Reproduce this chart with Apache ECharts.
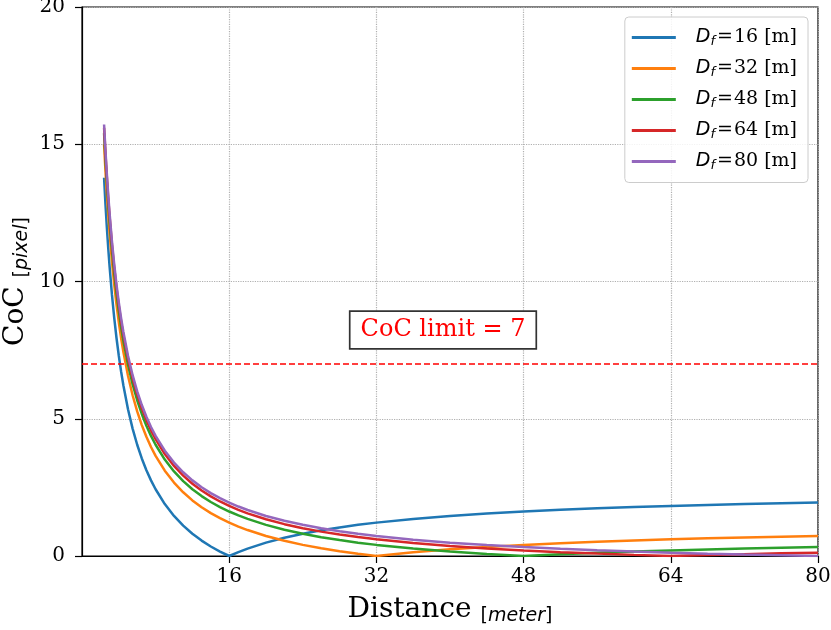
<!DOCTYPE html>
<html lang="en">
<head>
    <meta charset="UTF-8">
    <title>CoC vs Distance</title>
    <script src="https://cdn.jsdelivr.net/npm/echarts@6/dist/echarts.min.js"></script>
    <style>
        html, body {
            margin: 0;
            padding: 0;
            background: #fff;
        }

        #chart {
            width: 831px;
            height: 630px;
        }
    </style>
</head>
<body>
<div id="chart"></div>
<script type="text/javascript">
    // distance samples [m]
    var distance = [2.4, 2.55, 2.7, 2.85, 3, 3.25, 3.5, 3.75, 4, 4.25, 4.5, 5, 5.5, 6, 6.5, 7, 7.5, 8,
        9, 10, 11, 12, 13, 14, 15, 16, 17, 18, 20, 22, 24, 26, 28, 30,
        32, 36, 40, 44, 48, 52, 56, 60, 64, 68, 72, 76, 80];

    // CoC [pixel] per focus distance
    var coc16 = [13.78, 12.82, 11.98, 11.22, 10.54, 9.538, 8.683, 7.942, 7.294, 6.722, 6.213, 5.349, 4.641, 4.052, 3.553, 3.126, 2.755, 2.431,
        1.891, 1.459, 1.105, 0.810, 0.561, 0.347, 0.162, 0, 0.143, 0.270, 0.486, 0.663, 0.810, 0.935, 1.042, 1.135,
        1.216, 1.351, 1.459, 1.547, 1.621, 1.683, 1.737, 1.783, 1.823, 1.859, 1.891, 1.919, 1.945];
    var coc32 = [14.99, 14.04, 13.19, 12.43, 11.75, 10.75, 9.899, 9.158, 8.509, 7.937, 7.429, 6.564, 5.857, 5.268, 4.769, 4.342, 3.971, 3.647,
        3.107, 2.674, 2.321, 2.026, 1.777, 1.563, 1.378, 1.216, 1.073, 0.945, 0.729, 0.553, 0.405, 0.281, 0.174, 0.081,
        0, 0.135, 0.243, 0.332, 0.405, 0.468, 0.521, 0.567, 0.608, 0.644, 0.675, 0.704, 0.729];
    var coc48 = [15.40, 14.44, 13.60, 12.84, 12.16, 11.16, 10.30, 9.563, 8.915, 8.343, 7.834, 6.970, 6.262, 5.673, 5.174, 4.747, 4.376, 4.052,
        3.512, 3.080, 2.726, 2.431, 2.182, 1.968, 1.783, 1.621, 1.478, 1.351, 1.135, 0.958, 0.810, 0.686, 0.579, 0.486,
        0.405, 0.270, 0.162, 0.074, 0, 0.062, 0.116, 0.162, 0.203, 0.238, 0.270, 0.299, 0.324];
    var coc64 = [15.60, 14.65, 13.80, 13.04, 12.36, 11.36, 10.51, 9.766, 9.117, 8.545, 8.037, 7.172, 6.465, 5.876, 5.377, 4.949, 4.579, 4.255,
        3.714, 3.282, 2.929, 2.634, 2.385, 2.171, 1.986, 1.823, 1.680, 1.553, 1.337, 1.160, 1.013, 0.888, 0.781, 0.689,
        0.608, 0.473, 0.365, 0.276, 0.203, 0.140, 0.087, 0.041, 0, 0.036, 0.068, 0.096, 0.122];
    var coc80 = [15.72, 14.77, 13.92, 13.16, 12.48, 11.48, 10.63, 9.887, 9.239, 8.667, 8.158, 7.294, 6.587, 5.997, 5.498, 5.071, 4.700, 4.376,
        3.836, 3.404, 3.050, 2.755, 2.506, 2.292, 2.107, 1.945, 1.802, 1.675, 1.459, 1.282, 1.135, 1.010, 0.903, 0.810,
        0.729, 0.594, 0.486, 0.398, 0.324, 0.262, 0.208, 0.162, 0.122, 0.086, 0.054, 0.026, 0];

    var focusNames = ['16', '32', '48', '64', '80'];
    var xTicks = [16, 32, 48, 64, 80];
    var cocLimit = 7;

    var colors = ['#1f77b4', '#ff7f0e', '#2ca02c', '#d62728', '#9467bd'];
    var serif = 'DejaVu Serif';
    var sans = 'DejaVu Sans';

    function pairs(ys) {
        var out = [];
        for (var i = 0; i < distance.length; i++) {
            out.push([distance[i], ys[i]]);
        }
        return out;
    }

    var allCoc = [coc16, coc32, coc48, coc64, coc80];
    var series = [];
    for (var k = 0; k < allCoc.length; k++) {
        series.push({
            name: focusNames[k],
            type: 'line',
            data: pairs(allCoc[k]),
            showSymbol: false,
            symbol: 'none',
            lineStyle: {width: 2.5, color: colors[k]},
            itemStyle: {color: colors[k]},
            z: 3 + k
        });
    }
    // horizontal CoC limit
    series[0].markLine = {
        silent: true,
        symbol: 'none',
        label: {show: false},
        lineStyle: {color: '#ff0000', type: [6, 3], width: 1.7},
        data: [{yAxis: cocLimit}]
    };

    var subStyle = {fontFamily: sans, fontSize: 19, color: '#000', padding: [14, 0, 0, 0]};
    var subItalic = {fontFamily: sans, fontStyle: 'italic', fontSize: 19, color: '#000', padding: [14, 0, 0, 0]};

    var myChart = echarts.init(document.getElementById('chart'));
    var option = {
        animation: false,
        color: colors,
        grid: {
            left: 82,
            right: 13,
            top: 7,
            bottom: 74,
            outerBoundsMode: 'none',
            containLabel: false,
            show: true,
            borderColor: '#000',
            borderWidth: 1.2,
            backgroundColor: 'transparent'
        },
        legend: {
            orient: 'vertical',
            right: 23,
            top: 17,
            padding: [11, 11, 10, 7],
            itemWidth: 44,
            itemHeight: 3,
            itemGap: 10.5,
            icon: 'rect',
            backgroundColor: 'rgba(255,255,255,0.85)',
            borderColor: '#cccccc',
            borderWidth: 1,
            borderRadius: 4,
            data: focusNames,
            formatter: function (name) {
                return '{d|D}{s|f}{e|=}{n|' + name + ' [m]}';
            },
            textStyle: {
                rich: {
                    d: {fontFamily: sans, fontStyle: 'italic', fontSize: 19, color: '#000', padding: [0, 0, 0, 15]},
                    s: {fontFamily: sans, fontStyle: 'italic', fontSize: 13, color: '#000', padding: [9, 0, 0, 0]},
                    e: {fontFamily: serif, fontSize: 19, color: '#000', padding: [0, 1, 0, 2]},
                    n: {fontFamily: serif, fontSize: 19, color: '#000'}
                }
            }
        },
        xAxis: {
            type: 'value',
            min: 0,
            max: 80,
            interval: 16,
            name: '{a|Distance }{b|[}{c|meter}{b|]}',
            nameLocation: 'middle',
            nameGap: 37,
            nameMoveOverlap: false,
            nameTextStyle: {
                rich: {
                    a: {fontFamily: serif, fontSize: 28, color: '#000'},
                    b: subStyle,
                    c: subItalic
                }
            },
            axisLine: {show: true, onZero: false, lineStyle: {color: '#000', width: 1.2}},
            axisTick: {show: true, length: 7, lineStyle: {color: '#000', width: 1.2}, customValues: xTicks},
            axisLabel: {
                customValues: xTicks,
                fontFamily: serif,
                fontSize: 20,
                color: '#000',
                margin: 11
            },
            splitLine: {show: true, lineStyle: {color: '#b0b0b0', type: 'dotted', width: 1.2}}
        },
        yAxis: {
            type: 'value',
            min: 0,
            max: 20,
            interval: 5,
            name: '{a|CoC }{b|[}{c|pixel}{b|]}',
            nameLocation: 'middle',
            nameRotate: 90,
            nameGap: 50,
            nameMoveOverlap: false,
            nameTextStyle: {
                rich: {
                    a: {fontFamily: serif, fontSize: 28, color: '#000'},
                    b: subStyle,
                    c: subItalic
                }
            },
            axisLine: {show: true, lineStyle: {color: '#000', width: 1.2}},
            axisTick: {show: true, length: 7, lineStyle: {color: '#000', width: 1.2}},
            axisLabel: {fontFamily: serif, fontSize: 20, color: '#000', margin: 17},
            splitLine: {show: true, lineStyle: {color: '#b0b0b0', type: 'dotted', width: 1.2}}
        },
        graphic: [{
            type: 'text',
            x: 443,
            y: 330,
            z: 100,
            style: {
                text: 'CoC limit = ' + cocLimit,
                font: '24px "DejaVu Serif"',
                fill: '#ff0000',
                align: 'center',
                verticalAlign: 'middle',
                backgroundColor: '#fff',
                borderColor: '#333',
                borderWidth: 1.7,
                padding: [7, 10, 5, 10]
            }
        }],
        series: series
    };
    myChart.setOption(option);
</script>
</body>
</html>
